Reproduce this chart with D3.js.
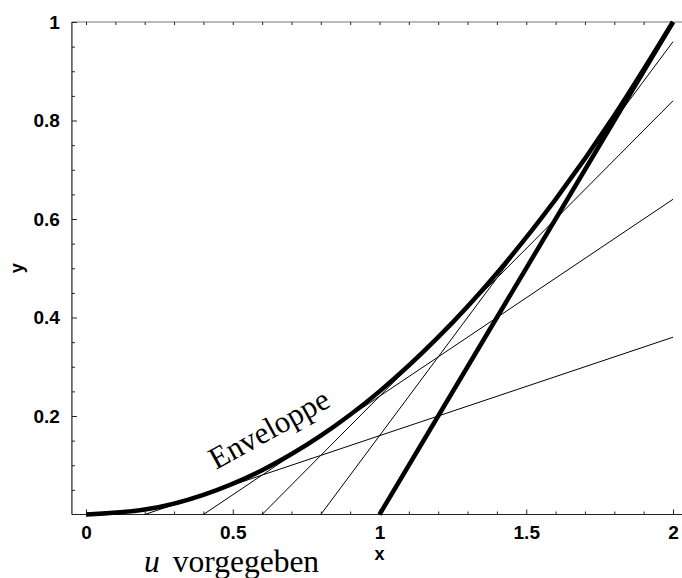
<!DOCTYPE html>
<html lang="de">
<head>
  <meta charset="UTF-8">
  <title>Enveloppe</title>
  <script src="https://d3js.org/d3.v7.min.js"></script>
  <style>
    body { margin: 0; background: #fff; }
  </style>
</head>
<body>
  <div id="my_dataviz"></div>
  <script>
    // Envelope points
    var envX = [0, 0.2, 0.4, 0.6, 0.8, 1.0, 1.2, 1.4, 1.6, 1.8, 2.0];
    var envY = [0, 0.01, 0.04, 0.09, 0.16, 0.25, 0.36, 0.49, 0.64, 0.81, 1.0];

    // Straight lines: start on the x axis, end at x = 2
    var lineX0 = [0.2, 0.4, 0.6, 0.8, 1.0];
    var lineX1 = [2, 2, 2, 2, 2];
    var lineY1 = [0.36, 0.64, 0.84, 0.96, 1.0];

    var xMajor = [0, 0.5, 1, 1.5, 2];
    var yMajor = [0.2, 0.4, 0.6, 0.8, 1];

    var W = 682, H = 578;

    var svg = d3.select("#my_dataviz")
      .append("svg")
        .attr("width", W)
        .attr("height", H);

    var x = d3.scaleLinear().domain([0, 2]).range([86, 673]);
    var y = d3.scaleLinear().domain([0, 1]).range([514.5, 22]);

    var xMinor = d3.range(0, 21).map(function(i) { return i / 10; })
      .filter(function(v) { return xMajor.indexOf(v) < 0; });
    var yMinor = d3.range(1, 21).map(function(i) { return i / 20; })
      .filter(function(v) { return yMajor.indexOf(v) < 0; });

    var left = x(-0.048), right = W;

    // frame lines
    svg.append("line")
      .attr("x1", left).attr("x2", right).attr("y1", y(1)).attr("y2", y(1))
      .attr("stroke", "#777").attr("stroke-width", 1.2);
    svg.append("line")
      .attr("x1", left).attr("x2", right).attr("y1", y(0)).attr("y2", y(0))
      .attr("stroke", "#222").attr("stroke-width", 1.2);
    svg.append("line")
      .attr("x1", left).attr("x2", left).attr("y1", y(1)).attr("y2", y(0))
      .attr("stroke", "#222").attr("stroke-width", 1.2);

    // bottom axis (ticks pointing inward)
    var gx = svg.append("g")
      .attr("transform", "translate(0," + y(0) + ")")
      .call(d3.axisBottom(x).tickValues(xMajor).tickSizeInner(-5).tickSizeOuter(0).tickPadding(11)
        .tickFormat(function(d) { return d3.format("")(d); }));
    gx.select(".domain").remove();
    svg.append("g")
      .attr("transform", "translate(0," + y(0) + ")")
      .call(d3.axisBottom(x).tickValues(xMinor).tickSizeInner(-3).tickSizeOuter(0).tickFormat(""))
      .select(".domain").remove();

    // top ticks
    svg.append("g")
      .attr("transform", "translate(0," + y(1) + ")")
      .call(d3.axisTop(x).tickValues(xMinor.concat(xMajor)).tickSizeInner(-3).tickSizeOuter(0).tickFormat(""))
      .select(".domain").remove();

    // left axis
    var gy = svg.append("g")
      .attr("transform", "translate(" + left + ",0)")
      .call(d3.axisLeft(y).tickValues(yMajor).tickSizeInner(-5).tickSizeOuter(0).tickPadding(12)
        .tickFormat(function(d) { return d3.format("")(d); }));
    gy.select(".domain").remove();
    svg.append("g")
      .attr("transform", "translate(" + left + ",0)")
      .call(d3.axisLeft(y).tickValues(yMinor).tickSizeInner(-3).tickSizeOuter(0).tickFormat(""))
      .select(".domain").remove();
    svg.selectAll(".tick line").attr("stroke", "#222");
    svg.selectAll(".tick text")
      .style("font-family", "Liberation Sans, Arial, sans-serif")
      .style("font-weight", "bold")
      .style("font-size", "19px")
      .attr("fill", "#000");

    // axis labels
    svg.append("text")
      .attr("x", x(1)).attr("y", 560)
      .attr("text-anchor", "middle")
      .style("font-family", "Liberation Sans, Arial, sans-serif")
      .style("font-weight", "bold").style("font-size", "18px")
      .text("x");
    svg.append("text")
      .attr("transform", "translate(23," + ((y(0) + y(1)) / 2) + ") rotate(-90)")
      .attr("text-anchor", "middle")
      .style("font-family", "Liberation Sans, Arial, sans-serif")
      .style("font-weight", "bold").style("font-size", "18px")
      .text("y");

    // straight lines
    svg.selectAll(".tline")
      .data(lineX0)
      .enter()
      .append("line")
        .attr("class", "tline")
        .attr("x1", function(d) { return x(d); })
        .attr("y1", y(0))
        .attr("x2", function(d, i) { return x(lineX1[i]); })
        .attr("y2", function(d, i) { return y(lineY1[i]); })
        .attr("stroke", "#000")
        .attr("stroke-width", function(d, i) { return i === lineX0.length - 1 ? 4.5 : 1; });

    // envelope
    var env = envX.map(function(v, i) { return [v, envY[i]]; });
    svg.append("path")
      .datum(env)
      .attr("fill", "none")
      .attr("stroke", "#000")
      .attr("stroke-width", 4.5)
      .attr("d", d3.line()
        .x(function(d) { return x(d[0]); })
        .y(function(d) { return y(d[1]); })
        .curve(d3.curveNatural));

    // labels
    svg.append("text")
      .attr("transform", "translate(" + 216 + "," + 470 + ") rotate(-29)")
      .style("font-family", "Liberation Serif, Times New Roman, serif")
      .style("font-size", "31px")
      .text("Enveloppe");

    var u = svg.append("text")
      .attr("x", 144).attr("y", 572)
      .style("font-family", "Liberation Serif, Times New Roman, serif")
      .style("font-size", "31.5px");
    u.append("tspan").style("font-style", "italic").text("u");
    u.append("tspan").attr("dx", 13).text("vorgegeben");
  </script>
</body>
</html>
